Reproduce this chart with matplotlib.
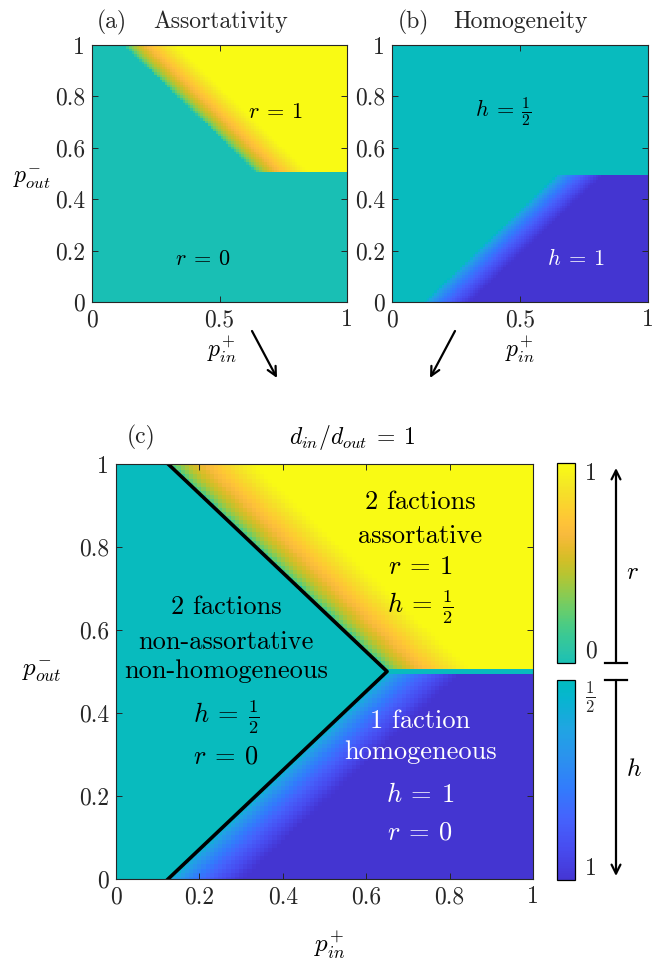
import numpy as np
import matplotlib
matplotlib.use("Agg")
import matplotlib.pyplot as plt
from matplotlib.colors import LinearSegmentedColormap, ListedColormap, Normalize
from matplotlib.cm import ScalarMappable

plt.rcParams['font.family'] = 'cmr10'
plt.rcParams['mathtext.fontset'] = 'cm'
plt.rcParams['axes.formatter.use_mathtext'] = True

# parula-like colour ramp (index in a 64-step table, rgb)
parula_idx = [0, 4, 8, 12, 16, 20, 24, 28, 30, 32, 34, 36, 38, 40, 42, 44,
              46, 48, 50, 52, 54, 56, 58, 60, 63]
parula_rgb = [
    (0.2422, 0.1504, 0.6603), (0.2706, 0.2147, 0.8364), (0.2813, 0.3006, 0.9414),
    (0.2699, 0.3892, 0.9906), (0.1963, 0.4847, 0.9892), (0.1687, 0.5703, 0.9359),
    (0.1248, 0.6459, 0.8883), (0.0297, 0.7082, 0.8163), (0.0067, 0.7312, 0.7660),
    (0.0964, 0.7500, 0.7120), (0.1717, 0.7670, 0.6554), (0.2161, 0.7843, 0.5923),
    (0.2906, 0.7973, 0.5188), (0.3909, 0.8029, 0.4354), (0.5044, 0.7993, 0.3480),
    (0.6174, 0.7876, 0.2612), (0.7242, 0.7698, 0.1910), (0.8203, 0.7498, 0.1535),
    (0.9035, 0.7330, 0.1774), (0.9728, 0.7298, 0.2394), (0.9970, 0.7659, 0.2199),
    (0.9892, 0.8136, 0.1885), (0.9676, 0.8639, 0.1643), (0.9597, 0.9135, 0.1423),
    (0.9769, 0.9839, 0.0805)]
parula = LinearSegmentedColormap.from_list(
    'parula', [(i / 63, c) for i, c in zip(parula_idx, parula_rgb)])
r_cmap = ListedColormap(parula(np.linspace(0.51, 1.0, 256)))
h_cmap = ListedColormap(parula(np.linspace(0.485, 0.06, 256)))

# phase diagram: p_in^+ on x, p_out^- on y
p_in = np.linspace(0, 1, 101)
p_out = np.linspace(0, 1, 101)

# phase boundary (corner points of the V)
boundary_pin = [0.125, 0.65, 0.125]
boundary_pout = [1.0, 0.5, 0.0]
p_crit = 0.5          # p_out^- separating the r and h regions
r_width = 0.21        # crossover width of r towards r = 1
h_width = 0.18        # crossover width of h towards h = 1

PIN, POUT = np.meshgrid(p_in, p_out)
edge_r = np.interp(POUT, boundary_pout[1::-1], boundary_pin[1::-1])
edge_h = np.interp(POUT, boundary_pout[:0:-1], boundary_pin[:0:-1])
r = np.where(POUT > p_crit + 1e-9,
             np.clip((PIN - edge_r) / r_width, 0, 1) ** 0.5, 0.0)
h = np.where(POUT < p_crit - 1e-9,
             0.5 + 0.5 * np.clip((PIN - edge_h) / h_width, 0, 1) ** 0.6, 0.5)

W, H = 661, 965
fig = plt.figure(figsize=(W / 100, H / 100), dpi=100)


def px_axes(x0, y0, x1, y1):
    return fig.add_axes([x0 / W, 1 - y1 / H, (x1 - x0) / W, (y1 - y0) / H])


ext = (-0.005, 1.005, -0.005, 1.005)
gray = (0.15, 0.15, 0.15)


def style(ax, xticks, xlabels, yticks, ylabels, fs):
    ax.set_xlim(0, 1)
    ax.set_ylim(0, 1)
    ax.set_xticks(xticks)
    ax.set_xticklabels(xlabels)
    ax.set_yticks(yticks)
    ax.set_yticklabels(ylabels)
    ax.tick_params(direction='in', top=True, right=True, length=4, width=0.7,
                   labelsize=fs, colors=gray, labelcolor=gray, pad=5)
    for s in ax.spines.values():
        s.set_color(gray)
        s.set_linewidth(0.8)


yt = [0, 0.2, 0.4, 0.6, 0.8, 1]
ytl = ['0', '0.2', '0.4', '0.6', '0.8', '1']

# (a) assortativity
ax_a = px_axes(92, 45, 347, 302)
ax_a.imshow(r, origin='lower', extent=ext, aspect='auto', cmap=r_cmap,
            vmin=0, vmax=1, interpolation='nearest')
style(ax_a, [0, 0.5, 1], ['0', '0.5', '1'], yt, ytl, 17)
ax_a.text(0.72, 0.74, r'$r \:=\: 1$', ha='center', va='center', fontsize=16)
ax_a.text(0.435, 0.167, r'$r \:=\: 0$', ha='center', va='center', fontsize=16)

# (b) homogeneity
ax_b = px_axes(392, 45, 648, 302)
ax_b.imshow(h, origin='lower', extent=ext, aspect='auto', cmap=h_cmap,
            vmin=0.5, vmax=1, interpolation='nearest')
style(ax_b, [0, 0.5, 1], ['0', '0.5', '1'], yt, ytl, 17)
ax_b.text(0.434, 0.74, r'$h \:=\: \frac{1}{2}$', ha='center', va='center',
          fontsize=16)
ax_b.text(0.72, 0.171, r'$h \:=\: 1$', ha='center', va='center', fontsize=16,
          color='white')

# (c) combined phase diagram
ax_c = px_axes(116, 464, 533, 879)
ax_c.imshow(h, origin='lower', extent=ext, aspect='auto', cmap=h_cmap,
            vmin=0.5, vmax=1, interpolation='nearest')
ax_c.imshow(np.ma.masked_where(r <= 0, r), origin='lower', extent=ext,
            aspect='auto', cmap=r_cmap, vmin=0, vmax=1, interpolation='nearest')
ax_c.plot(boundary_pin, boundary_pout, color='k', lw=2.6)
style(ax_c, [0, 0.2, 0.4, 0.6, 0.8, 1], ['0', '0.2', '0.4', '0.6', '0.8', '1'],
      yt, ytl, 17)

fs_c = 19
for txt, yy in [('2 factions', 0.908), ('assortative', 0.827),
                (r'$r \:=\: 1$', 0.752), (r'$h \:=\: \frac{1}{2}$', 0.655)]:
    ax_c.text(0.73, yy, txt, ha='center', va='center', fontsize=fs_c)
for txt, yy in [('2 factions', 0.655), ('non-assortative', 0.571),
                ('non-homogeneous', 0.501), (r'$h \:=\: \frac{1}{2}$', 0.39),
                (r'$r \:=\: 0$', 0.294)]:
    ax_c.text(0.264, yy, txt, ha='center', va='center', fontsize=fs_c)
for txt, yy in [('1 faction', 0.381), ('homogeneous', 0.306),
                (r'$h \:=\: 1$', 0.202), (r'$r \:=\: 0$', 0.111)]:
    ax_c.text(0.73, yy, txt, ha='center', va='center', fontsize=fs_c,
              color='white')

# colour bars
cax_r = px_axes(557, 463, 575, 663)
cb_r = fig.colorbar(ScalarMappable(Normalize(0, 1), r_cmap), cax=cax_r)
cb_r.set_ticks([0, 1])
cb_r.set_ticklabels(['0', '1'])
cax_h = px_axes(557, 680, 575, 880)
cb_h = fig.colorbar(ScalarMappable(Normalize(0.5, 1), h_cmap), cax=cax_h)
cax_h.invert_yaxis()
cb_h.set_ticks([0.5, 1])
cb_h.set_ticklabels([r'$\frac{1}{2}$', '1'])
for cb in (cb_r, cb_h):
    cb.outline.set_linewidth(0.9)
    cb.ax.tick_params(length=0, labelsize=17, colors=gray, labelcolor=gray, pad=7)
lab_r = cb_r.ax.get_yticklabels()
lab_r[0].set_va('bottom')
lab_r[1].set_va('top')
lab_h = cb_h.ax.get_yticklabels()
lab_h[0].set_va('top')
lab_h[1].set_va('bottom')

# labels, titles and arrows placed in figure pixels
ov = fig.add_axes([0, 0, 1, 1])
ov.set_xlim(0, W)
ov.set_ylim(H, 0)
ov.axis('off')
ov.patch.set_alpha(0)

ov.text(97, 22, '(a)', ha='left', va='center', fontsize=17, color=gray)
ov.text(153, 22, 'Assortativity', ha='left', va='center', fontsize=17, color=gray)
ov.text(398, 22, '(b)', ha='left', va='center', fontsize=17, color=gray)
ov.text(453, 22, 'Homogeneity', ha='left', va='center', fontsize=17, color=gray)
ov.text(127, 437, '(c)', ha='left', va='center', fontsize=17, color=gray)
ov.text(352, 437, r'$d_{in}/d_{out} \:=\: 1$', ha='center', va='center',
        fontsize=17)

ov.text(32, 180, r'$p_{out}^{-}$', ha='center', va='center', fontsize=17)
ov.text(42, 672, r'$p_{out}^{-}$', ha='center', va='center', fontsize=18)
ov.text(222, 350, r'$p_{in}^{+}$', ha='center', va='center', fontsize=17)
ov.text(520, 350, r'$p_{in}^{+}$', ha='center', va='center', fontsize=17)
ov.text(330, 945, r'$p_{in}^{+}$', ha='center', va='center', fontsize=18)

arrow = dict(arrowstyle='->', lw=1.6, color='k', shrinkA=0, shrinkB=0,
             mutation_scale=16)
ov.annotate('', xy=(277, 378), xytext=(252, 331), arrowprops=arrow)
ov.annotate('', xy=(430, 378), xytext=(455, 331), arrowprops=arrow)

ov.annotate('', xy=(616, 468), xytext=(616, 663), arrowprops=arrow)
ov.plot([605, 627], [663, 663], color='k', lw=1.6)
ov.text(632, 573, r'$r$', ha='center', va='center', fontsize=18)
ov.annotate('', xy=(616, 876), xytext=(616, 680), arrowprops=arrow)
ov.plot([605, 627], [680, 680], color='k', lw=1.6)
ov.text(634, 770, r'$h$', ha='center', va='center', fontsize=18)

fig.savefig('out.png', dpi=100)
